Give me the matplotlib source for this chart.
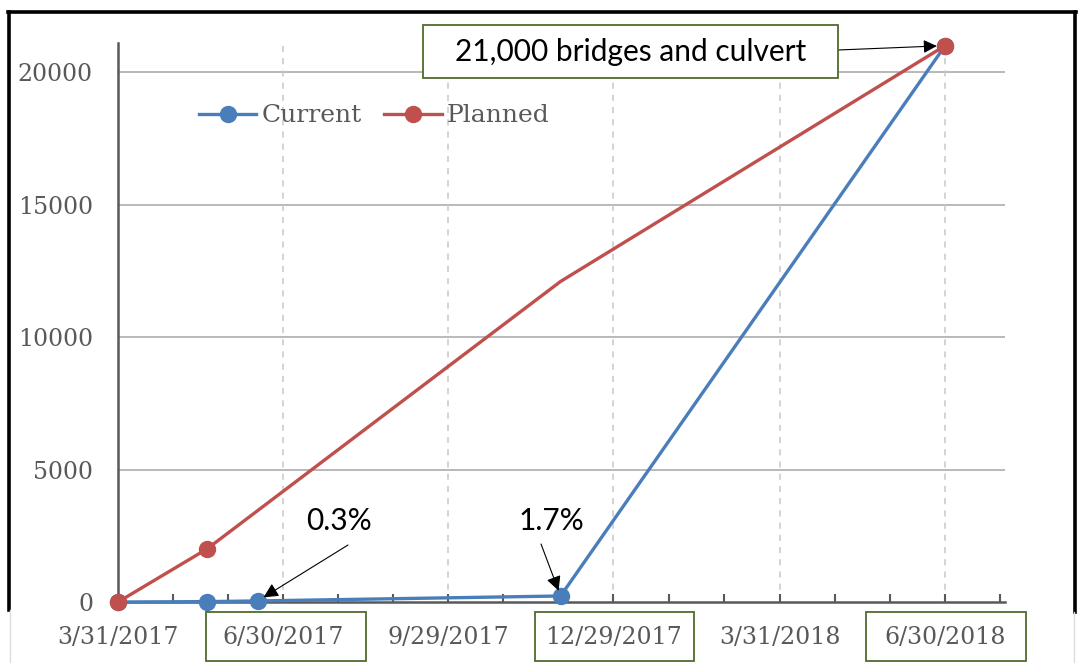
import matplotlib
matplotlib.use("Agg")
import matplotlib.pyplot as plt
import matplotlib.dates as mdates
from matplotlib.lines import Line2D
from matplotlib.patches import Rectangle
import pandas as pd

# ---------------- data ----------------
current_dates = ["2017-03-31", "2017-05-19", "2017-06-16", "2017-11-30", "2018-06-30"]
current_values = [0, 15, 40, 227, 21000]
planned_dates = ["2017-03-31", "2017-05-19", "2017-11-30", "2018-06-30"]
planned_values = [0, 2000, 12100, 21000]
planned_marker_idx = [0, 1, 3]
tick_dates = ["2017-03-31", "2017-06-30", "2017-09-29", "2017-12-29", "2018-03-31", "2018-06-30"]
tick_labels = ["3/31/2017", "6/30/2017", "9/29/2017", "12/29/2017", "3/31/2018", "6/30/2018"]
boxed_labels = ["6/30/2017", "12/29/2017", "6/30/2018"]
y_ticks = [0, 5000, 10000, 15000, 20000]
series_names = ["Current", "Planned"]
ann_pct = ["0.3%", "1.7%"]
ann_total = "21,000 bridges and culvert"

W, H = 1082, 666
BLUE = "#4a7ebb"
RED = "#c0504d"
GRAY_TXT = "#595959"
GREEN = "#4f6b2e"

fig = plt.figure(figsize=(W / 100, H / 100), dpi=100)
fig.patch.set_facecolor("white")

def fx(x):
    return x / W

def fy(y):
    return 1 - y / H

ax = fig.add_axes([fx(118), fy(602), fx(1005) - fx(118), fy(43) - fy(602)])

cd = mdates.date2num(pd.to_datetime(current_dates))
pdn = mdates.date2num(pd.to_datetime(planned_dates))
td = mdates.date2num(pd.to_datetime(tick_dates))

# lines
ax.plot(cd, current_values, color=BLUE, lw=2.4, marker="o", ms=11.5,
        label=series_names[0], zorder=4, clip_on=False, solid_joinstyle="round")
ax.plot(pdn, planned_values, color=RED, lw=2.4, zorder=3, clip_on=False,
        solid_joinstyle="round")
ax.plot(pdn[planned_marker_idx], [planned_values[i] for i in planned_marker_idx],
        color=RED, lw=0, marker="o", ms=11.5, zorder=5, clip_on=False)
ax.plot([], [], color=RED, lw=2.4, marker="o", ms=11.5, label=series_names[1])

# axes limits
x0 = td[0]
x1 = td[-1] + 33
ax.set_xlim(x0, x1)
ax.set_ylim(0, 21100)

# ticks
ax.set_xticks(td)
ax.set_xticklabels(tick_labels)
minor = []
for a, b in zip(td[:-1], td[1:]):
    step = (b - a) / 3
    minor += [a + step, a + 2 * step]
minor.append(td[-1] + 30)
ax.set_xticks(minor, minor=True)
ax.tick_params(axis="x", which="both", direction="in", length=6, width=1.5,
               color="#595959", pad=17, labelsize=17, labelcolor=GRAY_TXT)
ax.set_yticks(y_ticks)
ax.set_yticklabels([str(v) for v in y_ticks])
ax.tick_params(axis="y", length=0, pad=18, labelsize=17, labelcolor=GRAY_TXT)
for lab in ax.get_xticklabels() + ax.get_yticklabels():
    lab.set_family("DejaVu Serif")

# grid
for v in y_ticks[1:]:
    ax.axhline(v, color="#a6a6a6", lw=1.1, zorder=1)
for d in td[1:]:
    ax.axvline(d, color="#c8c8c8", lw=1.1, ls=(0, (4, 4)), zorder=1)

for s in ["top", "right"]:
    ax.spines[s].set_visible(False)
for s in ["left", "bottom"]:
    ax.spines[s].set_color("#595959")
    ax.spines[s].set_linewidth(1.8)

# legend
leg = ax.legend(loc="center", bbox_to_anchor=(fx(374), fy(116)),
                bbox_transform=fig.transFigure, ncol=2, frameon=False,
                handlelength=2.3, columnspacing=0.9, handletextpad=0.2,
                prop={"family": "DejaVu Serif", "size": 18})
for t in leg.get_texts():
    t.set_color(GRAY_TXT)

# annotations
afont = {"family": ["Lato", "DejaVu Sans"], "size": 21.5, "color": "black"}
ax.annotate("", xy=(cd[2], current_values[2]), xycoords="data",
            xytext=(fx(348), fy(545)), textcoords="figure fraction",
            arrowprops=dict(arrowstyle="-|>", color="black", lw=0.8,
                            mutation_scale=22, shrinkA=0, shrinkB=5),
            annotation_clip=False, zorder=6)
ax.annotate("", xy=(cd[3], current_values[3]), xycoords="data",
            xytext=(fx(541), fy(544)), textcoords="figure fraction",
            arrowprops=dict(arrowstyle="-|>", color="black", lw=0.8,
                            mutation_scale=22, shrinkA=0, shrinkB=4),
            annotation_clip=False, zorder=6)
fig.text(fx(339), fy(521), ann_pct[0], ha="center", va="center", **afont)
fig.text(fx(551), fy(521), ann_pct[1], ha="center", va="center", **afont)

# total box
fig.add_artist(Rectangle((fx(423), fy(78)), fx(838) - fx(423), fy(25) - fy(78),
                         transform=fig.transFigure, facecolor="white",
                         edgecolor=GREEN, lw=1.3, zorder=7))
fig.text(fx(631), fy(52), ann_total, ha="center", va="center", zorder=8, **afont)
ax.annotate("", xy=(pdn[-1], planned_values[-1]), xycoords="data",
            xytext=(fx(838), fy(50)), textcoords="figure fraction",
            arrowprops=dict(arrowstyle="-|>", color="black", lw=0.8,
                            mutation_scale=20, shrinkA=0, shrinkB=6),
            annotation_clip=False, zorder=6)

# boxes around some x labels
box_x = {"6/30/2017": (206, 366), "12/29/2017": (535, 694), "6/30/2018": (866, 1026)}
for lab in boxed_labels:
    a, b = box_x[lab]
    fig.add_artist(Rectangle((fx(a), fy(661)), fx(b) - fx(a), fy(612) - fy(661),
                             transform=fig.transFigure, facecolor="none",
                             edgecolor=GREEN, lw=1.3, zorder=7))

# outer frame of the screenshot
def fline(xs, ys, **kw):
    fig.add_artist(Line2D([fx(x) for x in xs], [fy(y) for y in ys],
                          transform=fig.transFigure, **kw))

fline([8, 1076], [12, 12], color="black", lw=2.6)
fline([9, 9], [12, 610], color="black", lw=2.6)
fline([1075, 1075], [12, 612], color="black", lw=2.6)
fline([10, 10], [610, 662], color="#dddddd", lw=1)
fline([1074, 1074], [612, 662], color="#dddddd", lw=1)

fig.savefig("out.png", dpi=100, facecolor="white")
